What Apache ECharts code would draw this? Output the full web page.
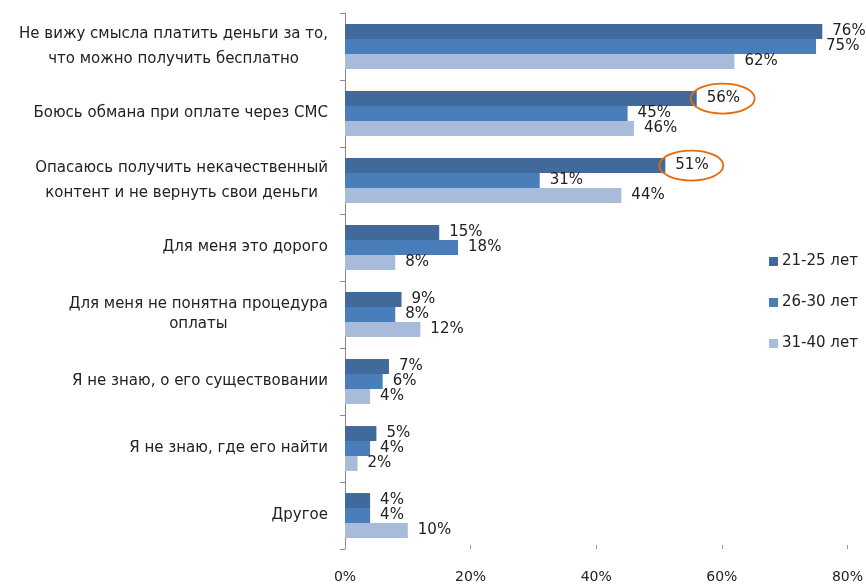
<!DOCTYPE html>
<html>
<head>
<meta charset="utf-8">
<script src="https://cdn.jsdelivr.net/npm/echarts@6/dist/echarts.min.js"></script>
<style>html,body{margin:0;padding:0;background:#fff}#c{width:866px;height:584px}</style>
</head>
<body>
<div id="c"></div>
<script>
const categories = [
  'Не вижу смысла платить деньги за то,\nчто можно получить бесплатно',
  'Боюсь обмана при оплате через СМС',
  'Опасаюсь получить некачественный\nконтент и не вернуть свои деньги',
  'Для меня это дорого',
  'Для меня не понятна процедура\nоплаты',
  'Я не знаю, о его существовании',
  'Я не знаю, где его найти',
  'Другое'
];
const seriesNames = ['21-25 лет', '26-30 лет', '31-40 лет'];
const age21_25 = [76, 56, 51, 15, 9, 7, 5, 4];
const age26_30 = [75, 45, 31, 18, 8, 6, 4, 4];
const age31_40 = [62, 46, 44, 8, 12, 4, 2, 10];
const xTicks = [0, 20, 40, 60, 80];
const highlighted = [1, 2]; // indices in age21_25 circled

const colors = ['#41699C', '#4A7EBB', '#A8BBDA'];
const font = 'DejaVu Sans';
const chart = echarts.init(document.getElementById('c'), null, {renderer: 'canvas'});

function mkSeries(name, data, color) {
  return {
    name: name, type: 'bar', data: data,
    barGap: '0%', barCategoryGap: '33%',
    itemStyle: {color: color},
    label: {show: true, position: 'right', distance: 10, formatter: '{c}%',
            color: '#222', fontFamily: font, fontSize: 15},
    animation: false
  };
}

chart.setOption({
  animation: false,
  color: colors,
  grid: {left: 345, right: 17, top: 13, bottom: 34, containLabel: false},
  legend: {
    orient: 'vertical', left: 764, top: 249, itemGap: 26,
    itemWidth: 9, itemHeight: 9, icon: 'rect',
    textStyle: {fontFamily: font, fontSize: 15, color: '#222', padding: [0, 0, 0, -1]},
    data: seriesNames
  },
  xAxis: {
    type: 'value', min: xTicks[0], max: xTicks[xTicks.length - 1], interval: 20,
    axisLine: {show: false},
    axisTick: {show: true, length: 4, inside: true, lineStyle: {color: '#999'}},
    splitLine: {show: false},
    axisLabel: {formatter: '{value}%', margin: 21, fontFamily: font, fontSize: 14, color: '#222'}
  },
  yAxis: {
    type: 'category', data: categories, inverse: true,
    axisLine: {show: true, lineStyle: {color: '#888'}},
    axisTick: {show: true, length: 5, lineStyle: {color: '#888'}},
    axisLabel: {
      margin: 17, fontFamily: font, fontSize: 15, color: '#222', align: 'right',
      formatter: function (v, i) {
        if (i === 4) return v.split('\n').map(s => '{n|' + s + '}').join('\n');
        if (v.indexOf('\n') >= 0) return v.split('\n').map(s => '{w|' + s + '}').join('\n');
        return v;
      },
      rich: {
        w: {lineHeight: 25, fontFamily: font, fontSize: 15, color: '#222', align: 'center'},
        n: {lineHeight: 20, fontFamily: font, fontSize: 15, color: '#222', align: 'center'}
      }
    }
  },
  series: [
    mkSeries(seriesNames[0], age21_25, colors[0]),
    mkSeries(seriesNames[1], age26_30, colors[1]),
    mkSeries(seriesNames[2], age31_40, colors[2])
  ]
});

// Orange ellipses around highlighted labels, positioned from the bar layout
const data0 = chart.getModel().getSeriesByIndex(0).getData();
const graphics = highlighted.map(function (idx) {
  const l = data0.getItemLayout(idx);
  const endX = l.x + l.width;
  const cy = l.y + l.height / 2;
  return {
    type: 'ellipse', silent: true, z: 100,
    shape: {cx: endX + 26, cy: cy, rx: 32, ry: 15},
    style: {fill: 'none', stroke: '#E46C0A', lineWidth: 1.8}
  };
});
chart.setOption({graphic: graphics});
</script>
</body>
</html>
